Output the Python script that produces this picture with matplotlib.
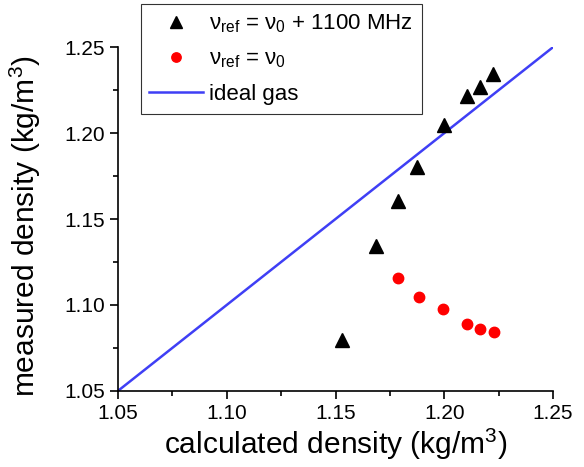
import numpy as np
import matplotlib.pyplot as plt
from matplotlib.ticker import MultipleLocator

plt.rcParams["font.family"] = ["Liberation Sans", "DejaVu Sans"]
plt.rcParams["mathtext.default"] = "regular"

# shifted reference frequency (triangles)
calc_shift = [1.153, 1.1686, 1.1789, 1.1876, 1.200, 1.2106, 1.2164, 1.2224]
meas_shift = [1.0797, 1.1343, 1.1606, 1.1801, 1.2047, 1.2215, 1.2267, 1.2343]

# reference frequency at resonance (circles)
calc_res = [1.1789, 1.1884, 1.1996, 1.2105, 1.2164, 1.2227]
meas_res = [1.1155, 1.1045, 1.0977, 1.0888, 1.0859, 1.0841]

# ideal gas line
ideal = [1.05, 1.25]

fig = plt.figure(figsize=(5.84, 4.67), dpi=100)
ax = fig.add_axes([0.202, 0.163, 0.745, 0.736])

ax.plot(ideal, ideal, color="#3f3ff5", linewidth=1.8, label="ideal gas", zorder=2)
ax.plot(calc_shift, meas_shift, linestyle="none", marker="^", markersize=10,
        color="black", label="ν$_{ref}$ = ν$_{0}$ + 1100 MHz", zorder=3)
ax.plot(calc_res, meas_res, linestyle="none", marker="o", markersize=7.5,
        color="red", label="ν$_{ref}$ = ν$_{0}$", zorder=3)

ax.set_xlim(1.05, 1.25)
ax.set_ylim(1.05, 1.25)
ax.xaxis.set_major_locator(MultipleLocator(0.05))
ax.yaxis.set_major_locator(MultipleLocator(0.05))
ax.xaxis.set_minor_locator(MultipleLocator(0.025))
ax.yaxis.set_minor_locator(MultipleLocator(0.025))
ax.xaxis.set_major_formatter(plt.FormatStrFormatter("%.2f"))
ax.yaxis.set_major_formatter(plt.FormatStrFormatter("%.2f"))

for side in ["top", "right"]:
    ax.spines[side].set_visible(False)
for side in ["left", "bottom"]:
    ax.spines[side].set_linewidth(1.2)

ax.tick_params(which="major", direction="out", length=6, width=1.2, labelsize=15)
ax.tick_params(which="minor", direction="out", length=3.5, width=1.2)

ax.set_xlabel("calculated density (kg/m$^3$)", fontsize=21.5, labelpad=3)
ax.set_ylabel("measured density (kg/m$^3$)", fontsize=21.5)
ax.yaxis.set_label_coords(-0.172, 0.48)

handles, labels = ax.get_legend_handles_labels()
order = [1, 2, 0]
leg = ax.legend([handles[i] for i in order], [labels[i] for i in order],
                loc="upper left", bbox_to_anchor=(141 / 584, 1 - 4 / 467),
                bbox_transform=fig.transFigure, fontsize=16,
                frameon=True, fancybox=False, edgecolor="black",
                labelspacing=0.62, handlelength=2.4, markerscale=0.9,
                borderpad=0.38, handletextpad=0.3, borderaxespad=0)
leg.get_frame().set_linewidth(0.8)
leg.set_zorder(5)

fig.savefig("out.png", dpi=100)
